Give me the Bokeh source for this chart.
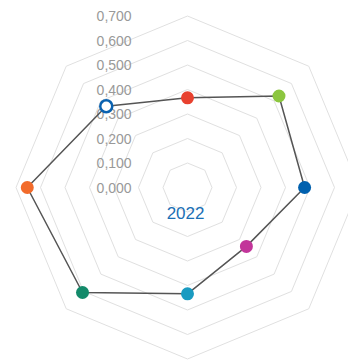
import numpy as np
from bokeh.plotting import figure
from bokeh.models import Range1d
from bokeh.core.properties import value
from bokeh.embed import file_html
from bokeh.resources import INLINE

# Data (clockwise from top)
categories = ["A", "B", "C", "D", "E", "F", "G", "H"]
values = [0.366, 0.528, 0.478, 0.340, 0.434, 0.606, 0.654, 0.469]
point_colors = ["#e8412f", "#8cc63f", "#0060ae", "#c2359a", "#1a9bc1", "#138a6a", "#f26b2b", "#0a62b0"]
hollow = [False, False, False, False, False, False, False, True]
tick_values = [0.0, 0.1, 0.2, 0.3, 0.4, 0.5, 0.6, 0.7]
tick_labels = ["0,000", "0,100", "0,200", "0,300", "0,400", "0,500", "0,600", "0,700"]
series_label = "2022"

W, H = 348, 360
cx_px, cy_px = 187, 187
scale = 245.0

p = figure(width=W, height=H, output_backend="svg", toolbar_location=None,
           x_range=Range1d(-cx_px / scale, (W - cx_px) / scale),
           y_range=Range1d(-(H - cy_px) / scale, cy_px / scale),
           min_border=0)
p.axis.visible = False
p.grid.visible = False
p.outline_line_color = None

n = len(categories)
angles = np.pi / 2 - np.arange(n) * 2 * np.pi / n

# octagonal rings
for t in tick_values[1:]:
    xs = list(t * np.cos(angles)) + [t * np.cos(angles[0])]
    ys = list(t * np.sin(angles)) + [t * np.sin(angles[0])]
    p.line(xs, ys, line_color="#e0e0e0", line_width=1)

# tick labels
p.text(x=[-0.228] * len(tick_values), y=tick_values, text=tick_labels,
       text_align="right", text_baseline="middle", text_color="#999999",
       text_font=value("Liberation Sans"), text_font_size="14px")

# data polygon
vals = np.array(values)
px = vals * np.cos(angles)
py = vals * np.sin(angles)
p.line(list(px) + [px[0]], list(py) + [py[0]], line_color="#555555", line_width=1.5)

solid = [i for i in range(n) if not hollow[i]]
holl = [i for i in range(n) if hollow[i]]
p.scatter(x=px[solid], y=py[solid], size=13, fill_color=[point_colors[i] for i in solid],
          line_color=None)
p.scatter(x=px[holl], y=py[holl], size=12, fill_color="white",
          line_color=[point_colors[i] for i in holl], line_width=2.5)

p.text(x=[-0.008], y=[-0.104], text=[series_label], text_align="center",
       text_baseline="middle", text_color="#1a6fb5",
       text_font=value("Liberation Sans"), text_font_size="17px")

open("out.html", "w").write(file_html(p, INLINE))
